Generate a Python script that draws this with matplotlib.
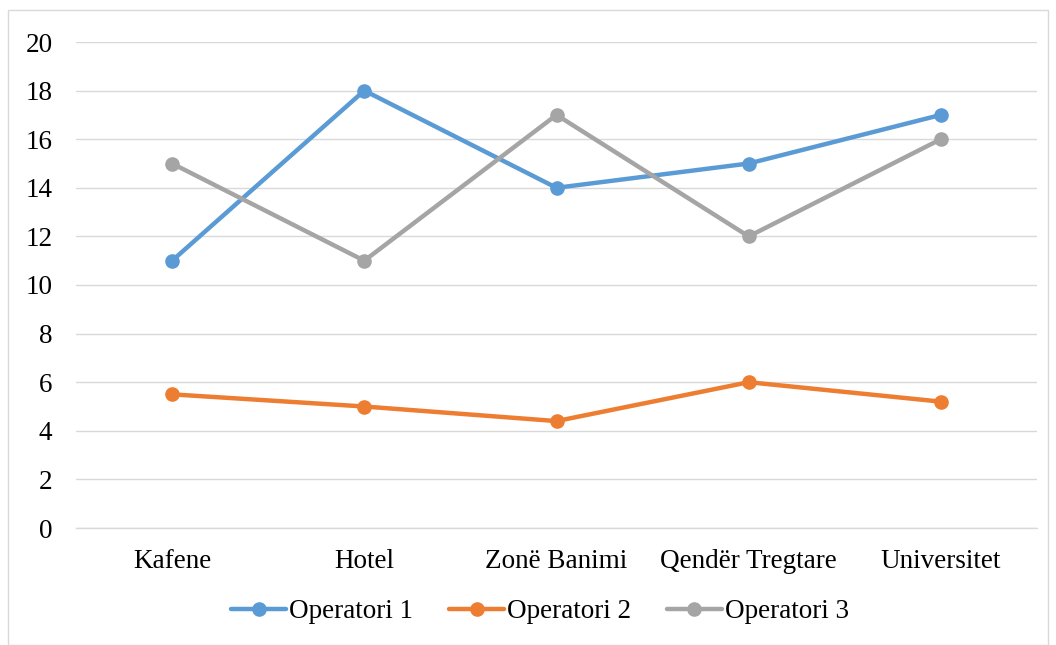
import matplotlib
matplotlib.use("Agg")
import matplotlib.pyplot as plt
from matplotlib.patches import Rectangle

categories = ["Kafene", "Hotel", "Zonë Banimi", "Qendër Tregtare", "Universitet"]
operatori1 = [11, 18, 14, 15, 17]
operatori2 = [5.5, 5, 4.4, 6, 5.2]
operatori3 = [15, 11, 17, 12, 16]
series_names = ["Operatori 1", "Operatori 2", "Operatori 3"]
colors = ["#5b9bd5", "#ed7d31", "#a5a5a5"]

plt.rcParams['font.family'] = ['Liberation Serif', 'DejaVu Serif']
FS = 19.5

W, H = 1056, 645
fig = plt.figure(figsize=(W/100, H/100), dpi=100)
fig.patches.append(Rectangle((8/W, 0), (1048-8)/W, 1 - 10/H, transform=fig.transFigure,
                             fill=False, edgecolor="#d9d9d9", linewidth=1))
ax = fig.add_axes([76/W, 1 - 528/H, (1037-76)/W, (528-42)/H])

x = list(range(len(categories)))
for vals, name, c in zip([operatori1, operatori2, operatori3], series_names, colors):
    ax.plot(x, vals, color=c, linewidth=3.2, marker='o', markersize=9.5, label=name,
            solid_capstyle='round', zorder=3)

ax.set_xlim(-0.5, len(categories) - 0.5)
ax.set_ylim(0, 20)
ax.set_yticks(range(0, 21, 2))
ax.set_xticks(x)
ax.set_xticklabels(categories, fontsize=FS)
ax.tick_params(axis='y', labelsize=FS, length=0, pad=17)
ax.tick_params(axis='x', length=0, pad=15)
ax.grid(axis='y', color="#d9d9d9", linewidth=1)
ax.set_axisbelow(True)
for s in ['top', 'right', 'left']:
    ax.spines[s].set_visible(False)
ax.spines['bottom'].set_color("#d9d9d9")
ax.spines['bottom'].set_linewidth(1)

fig.legend(loc='center', bbox_to_anchor=(540/W, 1 - 612/H), ncol=3, frameon=False,
           fontsize=FS, handlelength=2.03, handletextpad=0.1, columnspacing=1.33)

fig.savefig("out.png", dpi=100)
